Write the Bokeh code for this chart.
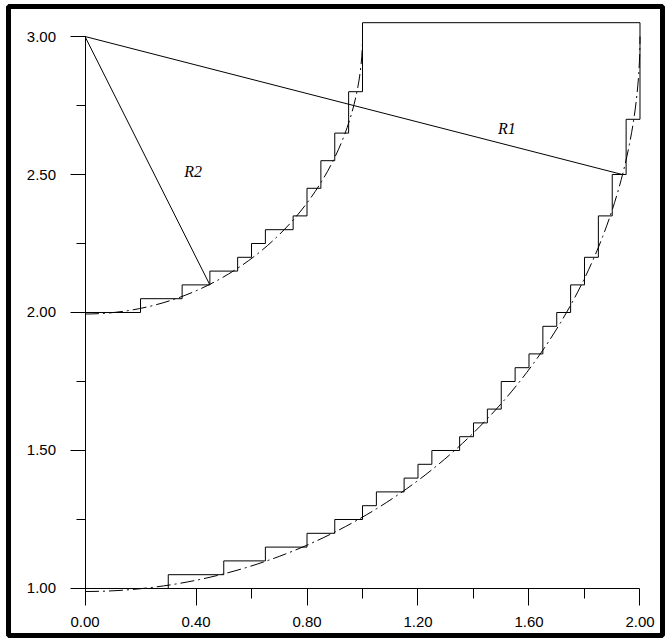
import math
from bokeh.plotting import figure
from bokeh.models import FixedTicker, PrintfTickFormatter, Range1d
from bokeh.core.properties import value
from bokeh.embed import file_html
from bokeh.resources import INLINE

# ---- data ----
x_ticks = [0.0, 0.4, 0.8, 1.2, 1.6, 2.0]
x_minor = [0.6, 1.0, 1.4, 1.8]
y_ticks = [1.0, 1.5, 2.0, 2.5, 3.0]
y_minor = [1.25, 1.75, 2.25, 2.75]

# outer staircase (approximation of arc R1)
lower_x = [0.00, 0.30, 0.30, 0.50, 0.50, 0.65, 0.65, 0.80, 0.80, 0.90, 0.90, 1.00, 1.00,
           1.05, 1.05, 1.15, 1.15, 1.20, 1.20, 1.25, 1.25, 1.35, 1.35, 1.40, 1.40, 1.45,
           1.45, 1.50, 1.50, 1.55, 1.55, 1.60, 1.60, 1.65, 1.65, 1.70, 1.70, 1.75, 1.75,
           1.80, 1.80, 1.85, 1.85, 1.90, 1.90, 1.95, 1.95, 2.00, 2.00]
lower_y = [1.00, 1.00, 1.05, 1.05, 1.10, 1.10, 1.15, 1.15, 1.20, 1.20, 1.25, 1.25, 1.30,
           1.30, 1.35, 1.35, 1.40, 1.40, 1.45, 1.45, 1.50, 1.50, 1.55, 1.55, 1.60, 1.60,
           1.65, 1.65, 1.75, 1.75, 1.80, 1.80, 1.85, 1.85, 1.95, 1.95, 2.00, 2.00, 2.10,
           2.10, 2.20, 2.20, 2.35, 2.35, 2.50, 2.50, 2.70, 2.70, 3.05]

# inner staircase (approximation of arc R2)
upper_x = [0.00, 0.20, 0.20, 0.35, 0.35, 0.45, 0.45, 0.55, 0.55, 0.60, 0.60, 0.65, 0.65,
           0.75, 0.75, 0.80, 0.80, 0.85, 0.85, 0.90, 0.90, 0.95, 0.95, 1.00, 1.00, 2.00]
upper_y = [2.00, 2.00, 2.05, 2.05, 2.10, 2.10, 2.15, 2.15, 2.20, 2.20, 2.25, 2.25, 2.30,
           2.30, 2.35, 2.35, 2.45, 2.45, 2.55, 2.55, 2.65, 2.65, 2.80, 2.80, 3.05, 3.05]

# exact arcs (dash-dot)
arc_cx = [0.0, 0.0]
arc_cy = [3.0, 3.0]
arc_r = [2.0, 1.0]

# radius lines
radius_xs = [[0.0, 1.936], [0.0, 0.45]]
radius_ys = [[3.0, 2.50], [3.0, 2.10]]

label_x = [1.52, 0.39]
label_y = [2.667, 2.51]
label_text = ["R1", "R2"]

# ---- figure: frame fills the canvas, outline is the black border ----
p = figure(width=670, height=642, output_backend="svg", toolbar_location=None,
           x_range=Range1d(-0.2757, 2.0811), y_range=Range1d(0.8297, 3.1087),
           min_border_left=8, min_border_right=8, min_border_top=6, min_border_bottom=7)
p.outline_line_color = "black"
p.outline_line_width = 5
p.xgrid.visible = False
p.ygrid.visible = False
p.background_fill_color = "white"
p.border_fill_color = "white"

for ax, ticks, minor, bnds, loc in ((p.xaxis[0], x_ticks, x_minor, (0.0, 2.0), 1.0),
                                    (p.yaxis[0], y_ticks, y_minor, (1.0, 3.0), 0.0)):
    ax.fixed_location = loc
    ax.ticker = FixedTicker(ticks=ticks, minor_ticks=minor)
    ax.formatter = PrintfTickFormatter(format="%.2f")
    ax.bounds = bnds
    ax.axis_line_color = "black"
    ax.major_tick_line_color = "black"
    ax.minor_tick_line_color = "black"
    ax.major_tick_in = 0
    ax.minor_tick_in = 0
    ax.major_label_text_font = "Liberation Sans"
    ax.major_label_text_font_size = "15px"
    ax.major_label_text_color = "black"

p.xaxis.major_tick_out = 17
p.xaxis.minor_tick_out = 10
p.xaxis.major_label_standoff = 12
p.yaxis.major_tick_out = 15
p.yaxis.minor_tick_out = 9
p.yaxis.major_label_standoff = 14

p.arc(x=arc_cx, y=arc_cy, radius=arc_r, start_angle=-math.pi / 2, end_angle=0.0,
      line_color="black", line_width=1, line_dash="14 4 2 4")

p.line(lower_x, lower_y, line_color="black", line_width=1)
p.line(upper_x, upper_y, line_color="black", line_width=1)
p.multi_line(radius_xs, radius_ys, line_color="black", line_width=1)

p.text(x=label_x, y=label_y, text=label_text, text_font=value("Liberation Serif"),
       text_font_style="italic", text_font_size="16px", text_align="center",
       text_baseline="middle", text_color="black")

open("out.html", "w").write(file_html(p, INLINE))
